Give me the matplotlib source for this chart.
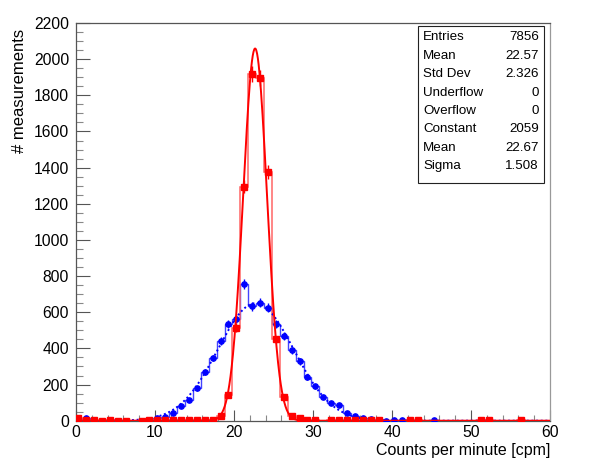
import numpy as np
import matplotlib
matplotlib.use("Agg")
import matplotlib.pyplot as plt
from matplotlib.ticker import MultipleLocator
from matplotlib.patches import Rectangle

plt.rcParams['font.family'] = ['Liberation Sans', 'DejaVu Sans']

# ---- data ----
bin_index = np.arange(0, 60)
bin_offset = 0.3  # marker position inside the bin
red_counts = [13, 2, 2, 1, 2, 1, 1, 0, 1, 2,
              3, 4, 2, 3, 2, 2, 3, 5, 26, 143,
              515, 1295, 1920, 1895, 1375, 450, 130, 28, 13, 4,
              3, 0, 3, 4, 3, 4, 3, 3, 3, 0,
              0, 0, 3, 3, 0, 0, 0, 0, 0, 0,
              0, 3, 3, 0, 0, 0, 3, 0, 0, 0]
blue_counts = [0, 13, 0, 0, 2, 0, 0, 0, 0, 2,
               13, 22, 44, 80, 113, 180, 270, 347, 441, 534,
               565, 754, 633, 652, 625, 535, 467, 389, 328, 243,
               191, 133, 100, 85, 41, 28, 14, 9, 6, 1,
               5, 2, 0, 0, 0, 2, 0, 0, 0, 0,
               0, 0, 0, 0, 0, 0, 0, 0, 0, 0]
red_fit = dict(const=2059, mean=22.67, sigma=1.508)
blue_fit = dict(const=650, mean=22.75, sigma=4.8)
stats_labels = ["Entries", "Mean", "Std Dev", "Underflow", "Overflow", "Constant", "Mean", "Sigma"]
stats_values = ["7856", "22.57", "2.326", "0", "0", "2059", "22.67", "1.508"]
xlabel = "Counts per minute [cpm]"
ylabel = "# measurements"

# ---- figure ----
W, H = 589, 475
fig = plt.figure(figsize=(W / 100, H / 100), dpi=100)
L, R, T, B = 76, 550, 23, 420.7
ax = fig.add_axes([L / W, 1 - B / H, (R - L) / W, (B - T) / H])

red = np.array(red_counts, float)
blue = np.array(blue_counts, float)
edges = np.append(bin_index, bin_index[-1] + 1) - (0.5 - bin_offset)
centers = bin_index + bin_offset

# step histograms
ax.stairs(blue, edges, color='#4444ff', lw=1.0, zorder=2)
ax.stairs(red, edges, color='#ff6666', lw=1.1, zorder=3)

# blue markers + errors
mb = blue > 0
ax.errorbar(centers[mb], blue[mb], yerr=np.sqrt(blue[mb]), fmt='o', color='#0000ff',
            ms=3.8, elinewidth=1.0, capsize=0, zorder=4)
# blue fit (dotted)
xf = np.linspace(0, 60, 1200)
ax.plot(xf, blue_fit['const'] * np.exp(-0.5 * ((xf - blue_fit['mean']) / blue_fit['sigma']) ** 2),
        ls=(0, (1, 1.4)), color='#0000ff', lw=1.4, zorder=4)

# red markers + errors
mr = red > 0
ax.errorbar(centers[mr], red[mr], yerr=np.sqrt(red[mr]), fmt='s', color='#ff0000',
            ms=4.2, elinewidth=1.0, capsize=0, zorder=5)
# red fit
ax.plot(xf, red_fit['const'] * np.exp(-0.5 * ((xf - red_fit['mean']) / red_fit['sigma']) ** 2),
        color='#ff0000', lw=1.4, zorder=6)

ax.set_xlim(0, 60)
ax.set_ylim(0, 2200)
ax.xaxis.set_major_locator(MultipleLocator(10))
ax.xaxis.set_minor_locator(MultipleLocator(2))
ax.yaxis.set_major_locator(MultipleLocator(200))
ax.yaxis.set_minor_locator(MultipleLocator(50))
ax.tick_params(axis='x', which='major', direction='in', length=8, width=0.8, color='#555555',
               labelsize=11.3, pad=3, top=False)
ax.tick_params(axis='x', which='minor', direction='in', length=4.3, width=0.8, color='#888888', top=False)
ax.tick_params(axis='y', which='major', direction='in', length=10, width=0.8, color='#555555',
               labelsize=11.3, pad=5, right=False)
ax.tick_params(axis='y', which='minor', direction='in', length=5, width=0.8, color='#888888', right=False)
for s in ['left', 'bottom', 'top']:
    ax.spines[s].set_color('#555555')
    ax.spines[s].set_linewidth(0.9)
ax.spines['right'].set_color('#999999')
ax.spines['right'].set_linewidth(0.9)

ax.set_xlabel(xlabel, fontsize=11.5, loc='right', labelpad=2)
ax.set_ylabel(ylabel, fontsize=12, loc='top')
ax.yaxis.set_label_coords((27 - L) / (R - L), 1 - (29 - T) / (B - T))

# stats box
def fx(px):
    return px / W

def fy(py):
    return 1 - py / H

box_l, box_r, box_t, box_b = 417.5, 543.5, 26.5, 183
fig.patches.append(Rectangle((fx(box_l), fy(box_b)), fx(box_r) - fx(box_l), fy(box_t) - fy(box_b),
                             transform=fig.transFigure, fill=True, facecolor='white',
                             edgecolor='#222222', lw=0.8, zorder=10))
row0, dy = 37.5, 18.35
for i, (lab, val) in enumerate(zip(stats_labels, stats_values)):
    yy = fy(row0 + i * dy)
    fig.text(fx(423), yy, lab, ha='left', va='center', fontsize=9.6, zorder=11)
    fig.text(fx(539), yy, val, ha='right', va='center', fontsize=9.6, zorder=11)

fig.savefig("out.png", dpi=100)
